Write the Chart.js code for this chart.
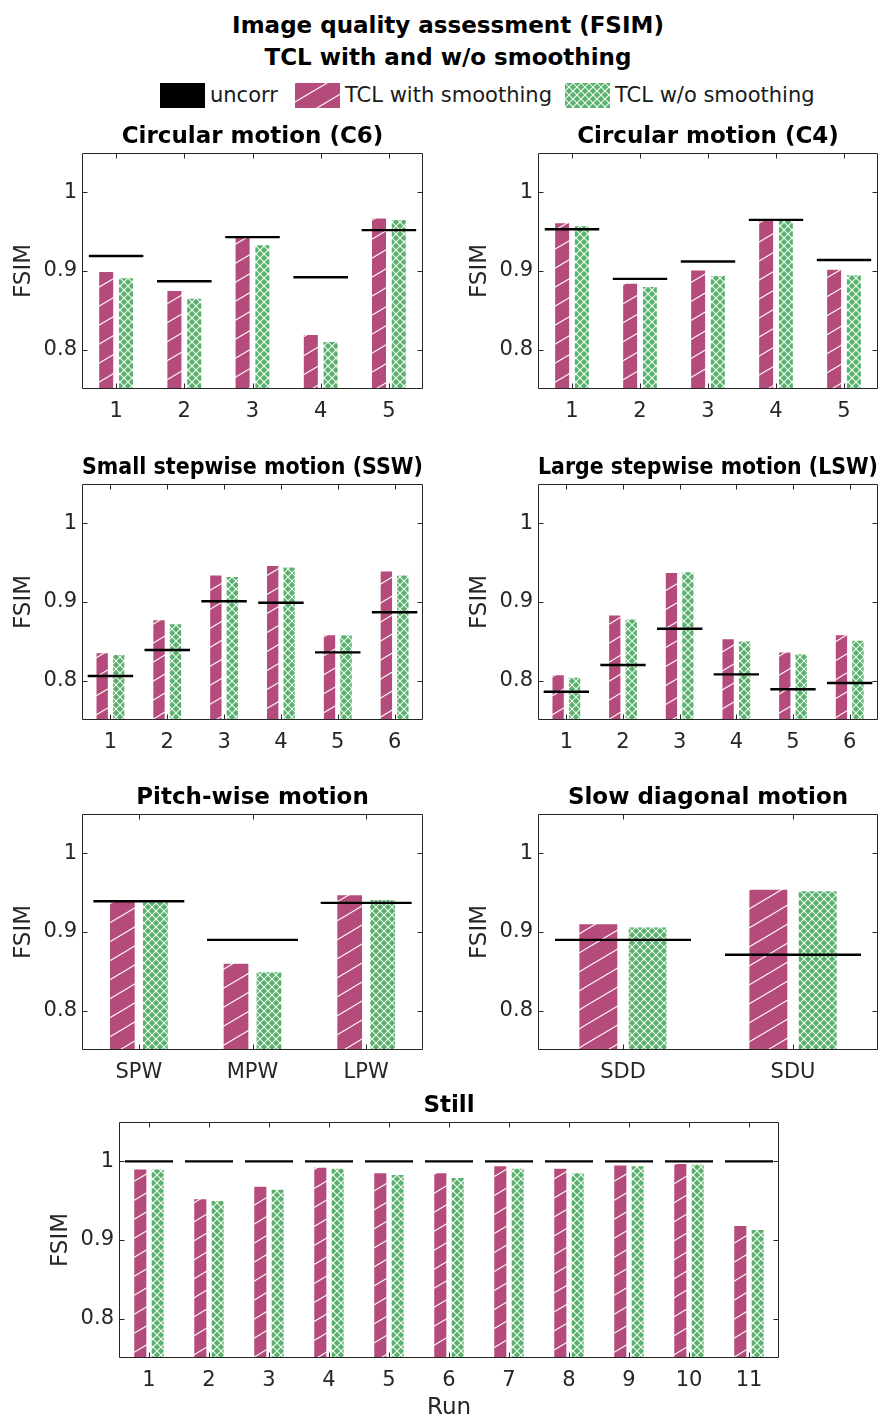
<!DOCTYPE html>
<html>
<head>
<meta charset="utf-8">
<script src="https://cdn.jsdelivr.net/npm/chart.js@4.4.1/dist/chart.umd.min.js"></script>
<style>
  html, body { margin: 0; padding: 0; background: #fff; }
  body { width: 896px; height: 1418px; position: relative; overflow: hidden; font-family: 'DejaVu Sans', sans-serif; }
  canvas.panel { position: absolute; }
  #mainTitle { position: absolute; left: 0; top: 9px; width: 896px; text-align: center; font-weight: bold; font-size: 23px; line-height: 32px; color: #000; }
  .sw { position: absolute; top: 83px; width: 45px; height: 25px; }
  .lt { position: absolute; top: 83px; height: 25px; line-height: 25px; font-size: 21px; color: #1a1a1a; white-space: nowrap; }
</style>
</head>
<body>
<div id="mainTitle">Image quality assessment (FSIM)<br>TCL with and w/o smoothing</div>

<canvas class="sw" id="swU" width="45" height="25" style="left:160px"></canvas>
<div class="lt" style="left:210px">uncorr</div>
<canvas class="sw" id="swS" width="45" height="25" style="left:295px"></canvas>
<div class="lt" style="left:345px">TCL with smoothing</div>
<canvas class="sw" id="swN" width="45" height="25" style="left:565px"></canvas>
<div class="lt" style="left:615px">TCL w/o smoothing</div>

<canvas class="panel" id="pC6"  width="430" height="305" style="left:0px;top:118px"></canvas>
<canvas class="panel" id="pC4"  width="430" height="305" style="left:456px;top:118px"></canvas>
<canvas class="panel" id="pSSW" width="430" height="305" style="left:0px;top:449px"></canvas>
<canvas class="panel" id="pLSW" width="430" height="305" style="left:456px;top:449px"></canvas>
<canvas class="panel" id="pPW"  width="430" height="305" style="left:0px;top:779px"></canvas>
<canvas class="panel" id="pSD"  width="430" height="305" style="left:456px;top:779px"></canvas>
<canvas class="panel" id="pST"  width="750" height="334" style="left:37px;top:1087px"></canvas>

<script>
// ---- data ----
const yTickValues = [0.8, 0.9, 1.0];
const yTickLabels = ['0.8', '0.9', '1'];

const c6Labels   = ['1', '2', '3', '4', '5'];
const c6Uncorr   = [0.919, 0.887, 0.943, 0.892, 0.952];
const c6Smooth   = [0.900, 0.876, 0.944, 0.820, 0.968];
const c6NoSmooth = [0.892, 0.866, 0.934, 0.811, 0.966];

const c4Labels   = ['1', '2', '3', '4', '5'];
const c4Uncorr   = [0.953, 0.890, 0.912, 0.965, 0.914];
const c4Smooth   = [0.962, 0.885, 0.902, 0.967, 0.903];
const c4NoSmooth = [0.958, 0.881, 0.895, 0.965, 0.896];

const sswLabels   = ['1', '2', '3', '4', '5', '6'];
const sswUncorr   = [0.806, 0.839, 0.901, 0.899, 0.836, 0.887];
const sswSmooth   = [0.836, 0.878, 0.935, 0.947, 0.859, 0.940];
const sswNoSmooth = [0.834, 0.873, 0.933, 0.945, 0.859, 0.935];

const lswLabels   = ['1', '2', '3', '4', '5', '6'];
const lswUncorr   = [0.786, 0.820, 0.866, 0.808, 0.789, 0.797];
const lswSmooth   = [0.808, 0.884, 0.938, 0.854, 0.837, 0.859];
const lswNoSmooth = [0.805, 0.879, 0.939, 0.851, 0.835, 0.852];

const pwLabels   = ['SPW', 'MPW', 'LPW'];
const pwUncorr   = [0.939, 0.890, 0.937];
const pwSmooth   = [0.941, 0.861, 0.948];
const pwNoSmooth = [0.939, 0.850, 0.942];

const sdLabels   = ['SDD', 'SDU'];
const sdUncorr   = [0.890, 0.871];
const sdSmooth   = [0.911, 0.955];
const sdNoSmooth = [0.907, 0.953];

const stLabels   = ['1', '2', '3', '4', '5', '6', '7', '8', '9', '10', '11'];
const stUncorr   = [1.000, 1.000, 1.000, 1.000, 1.000, 1.000, 1.000, 1.000, 1.000, 1.000, 1.000];
const stSmooth   = [0.991, 0.953, 0.969, 0.993, 0.986, 0.986, 0.995, 0.992, 0.996, 0.998, 0.919];
const stNoSmooth = [0.991, 0.951, 0.965, 0.992, 0.984, 0.980, 0.992, 0.986, 0.995, 0.997, 0.914];

// ---- styling ----
const FONT = 'DejaVu Sans';
const AXIS_COLOR = '#262626';
const PINK = '#b44b7b';
const GREEN = '#57b16b';
const TICK_LEN = 5;

// diagonal single hatch ("/")
function makeHatch(color) {
  const W = 32, H = 19;
  const c = document.createElement('canvas');
  c.width = W; c.height = H;
  const g = c.getContext('2d');
  g.fillStyle = color; g.fillRect(0, 0, W, H);
  g.strokeStyle = 'rgba(255,255,255,0.95)';
  g.lineWidth = 1.1;
  for (const dx of [-W, 0, W]) for (const dy of [-H, 0, H]) {
    g.beginPath(); g.moveTo(dx, H + dy); g.lineTo(W + dx, dy); g.stroke();
  }
  return g.createPattern(c, 'repeat');
}

// diagonal cross hatch ("x")
function makeCross(color) {
  const W = 8, H = 8;
  const c = document.createElement('canvas');
  c.width = W; c.height = H;
  const g = c.getContext('2d');
  g.fillStyle = color; g.fillRect(0, 0, W, H);
  g.strokeStyle = 'rgba(255,255,255,0.95)';
  g.lineWidth = 1.1;
  for (const dx of [-W, 0, W]) for (const dy of [-H, 0, H]) {
    g.beginPath(); g.moveTo(dx, dy); g.lineTo(W + dx, H + dy); g.stroke();
    g.beginPath(); g.moveTo(dx, H + dy); g.lineTo(W + dx, dy); g.stroke();
  }
  return g.createPattern(c, 'repeat');
}

const pinkPattern = makeHatch(PINK);
const greenPattern = makeCross(GREEN);

// legend swatches
(function () {
  const u = document.getElementById('swU').getContext('2d');
  u.fillStyle = '#000'; u.fillRect(0, 0, 45, 25);
  const s = document.getElementById('swS').getContext('2d');
  s.fillStyle = pinkPattern; s.fillRect(0, 0, 45, 25);
  const n = document.getElementById('swN').getContext('2d');
  n.fillStyle = greenPattern; n.fillRect(0, 0, 45, 25);
})();

// box around the plot area with inward tick marks on all four sides
const axesBox = {
  id: 'axesBox',
  afterDatasetsDraw(chart) {
    const { ctx, chartArea: a, scales: { x, y } } = chart;
    const L = Math.round(a.left) + 0.5, R = Math.round(a.right) - 0.5;
    const T = Math.round(a.top) + 0.5, B = Math.round(a.bottom) - 0.5;
    ctx.save();
    ctx.strokeStyle = AXIS_COLOR;
    ctx.lineWidth = 1;
    ctx.beginPath();
    ctx.rect(L, T, R - L, B - T);
    x.ticks.forEach((t, i) => {
      const px = Math.round(x.getPixelForTick(i)) + 0.5;
      ctx.moveTo(px, B); ctx.lineTo(px, B - TICK_LEN);
      ctx.moveTo(px, T); ctx.lineTo(px, T + TICK_LEN);
    });
    y.ticks.forEach((t) => {
      const py = Math.round(y.getPixelForValue(t.value)) + 0.5;
      ctx.moveTo(L, py); ctx.lineTo(L + TICK_LEN, py);
      ctx.moveTo(R, py); ctx.lineTo(R - TICK_LEN, py);
    });
    ctx.stroke();
    ctx.restore();
  }
};

function uncorrRadius(ctx) {
  const s = ctx.chart.scales.x;
  const n = ctx.chart.data.labels.length;
  return s ? (s.width / n) * 0.4 : 20;
}

function makePanel(id, title, labels, uncorr, smooth, noSmooth, opt) {
  const xh = opt.xh || 34;
  new Chart(document.getElementById(id), {
    type: 'bar',
    data: {
      labels: labels,
      datasets: [
        {
          type: 'line', label: 'uncorr', data: uncorr,
          showLine: false, pointStyle: 'line',
          borderColor: '#000', backgroundColor: '#000',
          borderWidth: 2.4, pointBorderWidth: 2.4,
          pointRadius: uncorrRadius, pointHoverRadius: uncorrRadius,
          clip: false, order: 0
        },
        {
          label: 'TCL with smoothing', data: smooth,
          backgroundColor: pinkPattern,
          borderColor: 'rgba(255,255,255,0.35)', borderWidth: 1,
          categoryPercentage: 0.58, barPercentage: 0.81, order: 1
        },
        {
          label: 'TCL w/o smoothing', data: noSmooth,
          backgroundColor: greenPattern,
          borderColor: 'rgba(255,255,255,0.35)', borderWidth: 1,
          categoryPercentage: 0.58, barPercentage: 0.81, order: 1
        }
      ]
    },
    options: {
      responsive: false,
      devicePixelRatio: 1,
      animation: false,
      layout: { padding: { left: 0, right: opt.padRight, top: 0, bottom: 0 } },
      plugins: {
        legend: { display: false },
        tooltip: { enabled: false },
        title: {
          display: true, text: title, fullSize: false, color: '#000',
          font: { family: FONT, size: 23, weight: 'bold', lineHeight: '26px' },
          padding: { top: 6, bottom: 3 }
        }
      },
      scales: {
        x: {
          grid: { display: false, drawTicks: false },
          border: { display: false },
          ticks: { color: AXIS_COLOR, font: { family: FONT, size: 21 }, padding: 10, autoSkip: false, maxRotation: 0 },
          title: opt.xTitle ? {
            display: true, text: opt.xTitle, color: AXIS_COLOR,
            font: { family: FONT, size: 23, lineHeight: '26px' }, padding: { top: 0, bottom: 0 }
          } : { display: false },
          afterFit(scale) { scale.height = xh; }
        },
        y: {
          min: 0.75, max: 1.05,
          grid: { display: false, drawTicks: false },
          border: { display: false },
          afterBuildTicks(scale) { scale.ticks = yTickValues.map(v => ({ value: v })); },
          ticks: {
            color: AXIS_COLOR, font: { family: FONT, size: 21 }, padding: 5,
            callback: (v) => yTickLabels[yTickValues.findIndex(t => Math.abs(t - v) < 1e-9)]
          },
          title: {
            display: true, text: 'FSIM', color: AXIS_COLOR,
            font: { family: FONT, size: 23, lineHeight: '26px' }, padding: { top: 11, bottom: 0 }
          },
          afterFit(scale) { scale.width = 82; }
        }
      }
    },
    plugins: [axesBox]
  });
}

makePanel('pC6', 'Circular motion (C6)', c6Labels, c6Uncorr, c6Smooth, c6NoSmooth, { padRight: 7 });
makePanel('pC4', 'Circular motion (C4)', c4Labels, c4Uncorr, c4Smooth, c4NoSmooth, { padRight: 8 });
makePanel('pSSW', 'Small stepwise motion (SSW)', sswLabels, sswUncorr, sswSmooth, sswNoSmooth, { padRight: 7 });
makePanel('pLSW', 'Large stepwise motion (LSW)', lswLabels, lswUncorr, lswSmooth, lswNoSmooth, { padRight: 8 });
makePanel('pPW', 'Pitch-wise motion', pwLabels, pwUncorr, pwSmooth, pwNoSmooth, { padRight: 7 });
makePanel('pSD', 'Slow diagonal motion', sdLabels, sdUncorr, sdSmooth, sdNoSmooth, { padRight: 8 });
makePanel('pST', 'Still', stLabels, stUncorr, stSmooth, stNoSmooth, { padRight: 8, xh: 63, xTitle: 'Run' });
</script>
</body>
</html>
